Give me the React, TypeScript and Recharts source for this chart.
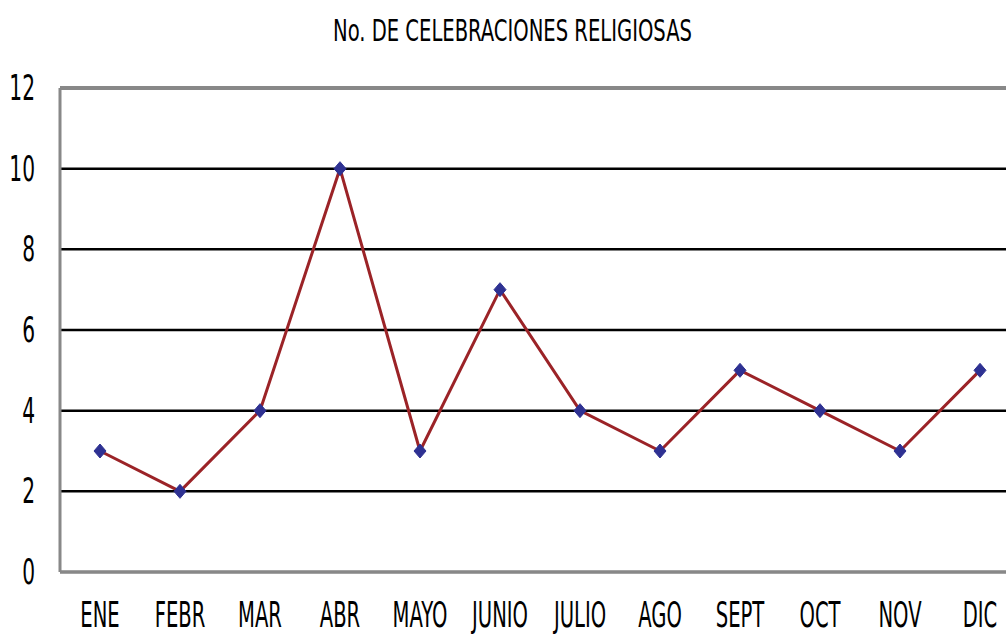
import React from "react";
import { LineChart, Line, XAxis, YAxis, CartesianGrid, ReferenceLine } from "recharts";

const months = ["ENE", "FEBR", "MAR", "ABR", "MAYO", "JUNIO", "JULIO", "AGO", "SEPT", "OCT", "NOV", "DIC"];
const celebrations = [3, 2, 4, 10, 3, 7, 4, 3, 5, 4, 3, 5];
const yTicks = [0, 2, 4, 6, 8, 10, 12];
const title = "No. DE CELEBRACIONES RELIGIOSAS";

const data = months.map((m, i) => ({ month: m, value: celebrations[i] }));

const FONT = "'Liberation Sans Narrow', 'DejaVu Sans Condensed', 'Liberation Sans', sans-serif";

const XTick = (props: any) => {
  const { x, y, payload } = props;
  return (
    <text
      transform={`translate(${x},${y}) scale(0.66,1.05)`}
      textAnchor="middle"
      fontFamily={FONT}
      fontSize={33}
      fill="#000"
    >
      {payload.value}
    </text>
  );
};

const YTick = (props: any) => {
  const { x, y, payload } = props;
  return (
    <text
      transform={`translate(${x},${y + 12}) scale(0.68,1.05)`}
      textAnchor="end"
      fontFamily={FONT}
      fontSize={33}
      fill="#000"
    >
      {payload.value}
    </text>
  );
};

const Diamond = (props: any) => {
  const { cx, cy } = props;
  if (cx == null || cy == null) return null;
  const r = 7;
  return (
    <path
      d={`M${cx},${cy - r} L${cx + r - 1},${cy} L${cx},${cy + r} L${cx - r + 1},${cy} Z`}
      fill="#2E3192"
      stroke="#2E3192"
      strokeWidth={1}
    />
  );
};

export default function App() {
  return (
    <div style={{ position: "absolute", left: 0, top: 0, width: 1006, height: 634, overflow: "hidden", background: "#fff" }}>
      <svg width={1006} height={60} style={{ position: "absolute", left: 0, top: 0 }}>
        <text
          x={333}
          y={41}
          textLength={359}
          lengthAdjust="spacingAndGlyphs"
          fontFamily={FONT}
          fontSize={30}
          fill="#000"
        >
          {title}
        </text>
      </svg>
      <div style={{ position: "absolute", left: 0, top: 0 }}>
        <LineChart
          width={1020}
          height={634}
          data={data}
          margin={{ top: 88, right: 0, bottom: 0, left: 0 }}
        >
          <CartesianGrid vertical={false} horizontal stroke="#000" strokeWidth={2.5} />
          <XAxis
            dataKey="month"
            height={62}
            axisLine={{ stroke: "#888", strokeWidth: 3 }}
            tickLine={false}
            tick={<XTick />}
            tickMargin={49}
            interval={0}
            padding={{ left: 40, right: 40 }}
          />
          <YAxis
            domain={[0, 12]}
            ticks={yTicks}
            width={60}
            axisLine={{ stroke: "#888", strokeWidth: 3 }}
            tickLine={false}
            tick={<YTick />}
            tickMargin={19}
          />
          <ReferenceLine y={0} stroke="#000" strokeWidth={2} />
          <ReferenceLine y={12} stroke="#888" strokeWidth={4} />
          <Line
            type="linear"
            dataKey="value"
            stroke="#9B2327"
            strokeWidth={3}
            dot={<Diamond />}
            activeDot={false}
            isAnimationActive={false}
          />
        </LineChart>
      </div>
    </div>
  );
}
